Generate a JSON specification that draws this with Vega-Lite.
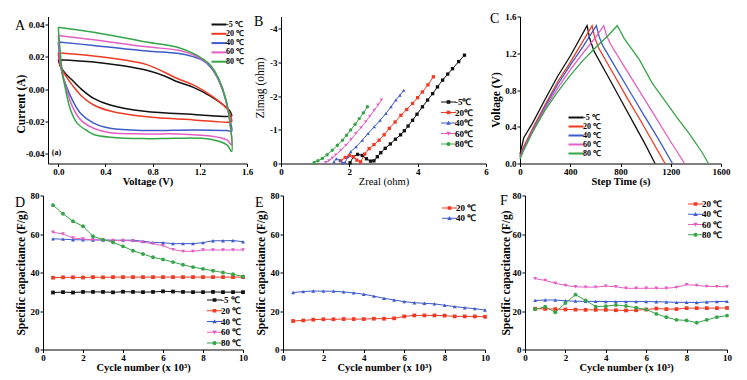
{
"$schema": "https://vega.github.io/schema/vega-lite/v6.json",
"padding": {"left": 15, "top": 11.5, "right": 2, "bottom": 2},
"spacing": 4,
"config": {
  "view": {"stroke": null},
  "font": "Liberation Serif",
  "axis": {"grid": false, "domainColor": "#000", "tickColor": "#000", "tickSize": 3, "labelPadding": 1, "labelFont": "Liberation Serif", "labelFontSize": 9, "labelFontWeight": "bold", "labelColor": "#000", "titleFont": "Liberation Serif", "titleFontWeight": "bold", "titleColor": "#000", "domainWidth": 1, "tickWidth": 1, "labelFlush": false, "labelOverlap": false},
  "axisX": {"titleFontSize": 10.5, "titlePadding": 0},
  "axisY": {"titleFontSize": 11.5},
  "legend": {"labelFont": "Liberation Serif", "labelFontWeight": "bold", "labelColor": "#000", "labelOffset": 2},
  "title": {"font": "Liberation Serif", "fontSize": 14, "fontWeight": "normal", "anchor": "start", "frame": "bounds", "baseline": "alphabetic", "color": "#000"}
},
"resolve": {"scale": {"color": "independent", "x": "independent", "y": "independent"}, "legend": {"color": "independent"}},
"vconcat": [
{
 "spacing": 4, "bounds": "flush",
 "resolve": {"scale": {"color": "independent", "x": "independent", "y": "independent"}, "legend": {"color": "independent"}},
 "hconcat": [
  {"width": 1, "height": 147, "data": {"values": []}, "mark": "point"},
  {
   "spacing": 34, "bounds": "flush",
   "resolve": {"scale": {"color": "independent", "x": "independent", "y": "independent"}, "legend": {"color": "independent"}},
   "hconcat": [
    {
     "width": 199, "height": 147,
     "title": {"text": "A", "offset": -16},
     "encoding": {
      "x": {"field": "x", "type": "quantitative", "scale": {"domain": [-0.087, 1.6], "nice": false, "zero": false}, "axis": {"title": "Voltage (V)", "values": [0, 0.4, 0.8, 1.2, 1.6], "format": ".1f", "labelOverlap": false}},
      "y": {"field": "y", "type": "quantitative", "scale": {"domain": [-0.046, 0.045], "nice": false, "zero": false}, "axis": {"title": "Current (A)", "values": [-0.04, -0.02, 0, 0.02, 0.04], "format": ".2f", "labelExpr": "replace(datum.label, '−', '-')", "labelOverlap": false, "minExtent": 21, "maxExtent": 21, "titlePadding": 1, "titleY": 87}}
     },
     "layer": [
      {
       "data": {"values": [
{"s":"-5 ℃","o":1,"x":0,"y":0.0183},{"s":"-5 ℃","o":2,"x":0.3,"y":0.0169},{"s":"-5 ℃","o":3,"x":0.55,"y":0.0145},{"s":"-5 ℃","o":4,"x":0.75,"y":0.0117},{"s":"-5 ℃","o":5,"x":0.9,"y":0.0082},{"s":"-5 ℃","o":6,"x":1.01,"y":0.0046},{"s":"-5 ℃","o":7,"x":1.15,"y":0.001},{"s":"-5 ℃","o":8,"x":1.29,"y":-0.0043},{"s":"-5 ℃","o":9,"x":1.4,"y":-0.0098},{"s":"-5 ℃","o":10,"x":1.45,"y":-0.013},{"s":"-5 ℃","o":11,"x":1.47,"y":-0.016},{"s":"-5 ℃","o":12,"x":1.47,"y":-0.0166},{"s":"-5 ℃","o":13,"x":1.15,"y":-0.0156},{"s":"-5 ℃","o":14,"x":0.73,"y":-0.0137},{"s":"-5 ℃","o":15,"x":0.44,"y":-0.0098},{"s":"-5 ℃","o":16,"x":0.3,"y":-0.0057},{"s":"-5 ℃","o":17,"x":0.19,"y":0.0004},{"s":"-5 ℃","o":18,"x":0.12,"y":0.0055},{"s":"-5 ℃","o":19,"x":0.06,"y":0.0097},{"s":"-5 ℃","o":20,"x":0.02,"y":0.0138},{"s":"-5 ℃","o":21,"x":0,"y":0.0183},
{"s":"20 ℃","o":1,"x":0,"y":0.0226},{"s":"20 ℃","o":2,"x":0.3,"y":0.0206},{"s":"20 ℃","o":3,"x":0.55,"y":0.0182},{"s":"20 ℃","o":4,"x":0.75,"y":0.0152},{"s":"20 ℃","o":5,"x":0.9,"y":0.0105},{"s":"20 ℃","o":6,"x":1.01,"y":0.0066},{"s":"20 ℃","o":7,"x":1.15,"y":0.0025},{"s":"20 ℃","o":8,"x":1.29,"y":-0.0037},{"s":"20 ℃","o":9,"x":1.4,"y":-0.0098},{"s":"20 ℃","o":10,"x":1.45,"y":-0.0139},{"s":"20 ℃","o":11,"x":1.47,"y":-0.019},{"s":"20 ℃","o":12,"x":1.47,"y":-0.0201},{"s":"20 ℃","o":13,"x":1.15,"y":-0.019},{"s":"20 ℃","o":14,"x":0.73,"y":-0.0169},{"s":"20 ℃","o":15,"x":0.44,"y":-0.0135},{"s":"20 ℃","o":16,"x":0.3,"y":-0.0098},{"s":"20 ℃","o":17,"x":0.19,"y":-0.0037},{"s":"20 ℃","o":18,"x":0.12,"y":0.0025},{"s":"20 ℃","o":19,"x":0.06,"y":0.0086},{"s":"20 ℃","o":20,"x":0.02,"y":0.0138},{"s":"20 ℃","o":21,"x":0,"y":0.0226},
{"s":"40 ℃","o":1,"x":0,"y":0.0292},{"s":"40 ℃","o":2,"x":0.3,"y":0.0271},{"s":"40 ℃","o":3,"x":0.75,"y":0.0236},{"s":"40 ℃","o":4,"x":1.01,"y":0.0222},{"s":"40 ℃","o":5,"x":1.15,"y":0.020},{"s":"40 ℃","o":6,"x":1.22,"y":0.018},{"s":"40 ℃","o":7,"x":1.29,"y":0.0138},{"s":"40 ℃","o":8,"x":1.36,"y":0.0055},{"s":"40 ℃","o":9,"x":1.42,"y":-0.0068},{"s":"40 ℃","o":10,"x":1.455,"y":-0.019},{"s":"40 ℃","o":11,"x":1.47,"y":-0.026},{"s":"40 ℃","o":12,"x":1.43,"y":-0.0256},{"s":"40 ℃","o":13,"x":1.15,"y":-0.0252},{"s":"40 ℃","o":14,"x":0.73,"y":-0.0256},{"s":"40 ℃","o":15,"x":0.44,"y":-0.0242},{"s":"40 ℃","o":16,"x":0.3,"y":-0.021},{"s":"40 ℃","o":17,"x":0.19,"y":-0.015},{"s":"40 ℃","o":18,"x":0.12,"y":-0.0068},{"s":"40 ℃","o":19,"x":0.06,"y":0.0035},{"s":"40 ℃","o":20,"x":0.03,"y":0.0107},{"s":"40 ℃","o":21,"x":0,"y":0.0292},
{"s":"60 ℃","o":1,"x":0,"y":0.0332},{"s":"60 ℃","o":2,"x":0.3,"y":0.0306},{"s":"60 ℃","o":3,"x":0.75,"y":0.0262},{"s":"60 ℃","o":4,"x":1.01,"y":0.0242},{"s":"60 ℃","o":5,"x":1.15,"y":0.0212},{"s":"60 ℃","o":6,"x":1.22,"y":0.0185},{"s":"60 ℃","o":7,"x":1.29,"y":0.0145},{"s":"60 ℃","o":8,"x":1.36,"y":0.0058},{"s":"60 ℃","o":9,"x":1.42,"y":-0.0065},{"s":"60 ℃","o":10,"x":1.455,"y":-0.021},{"s":"60 ℃","o":11,"x":1.47,"y":-0.0345},{"s":"60 ℃","o":12,"x":1.43,"y":-0.0314},{"s":"60 ℃","o":13,"x":1.29,"y":-0.029},{"s":"60 ℃","o":14,"x":1.01,"y":-0.0277},{"s":"60 ℃","o":15,"x":0.73,"y":-0.0277},{"s":"60 ℃","o":16,"x":0.44,"y":-0.0269},{"s":"60 ℃","o":17,"x":0.3,"y":-0.0242},{"s":"60 ℃","o":18,"x":0.19,"y":-0.019},{"s":"60 ℃","o":19,"x":0.12,"y":-0.0108},{"s":"60 ℃","o":20,"x":0.06,"y":0.0025},{"s":"60 ℃","o":21,"x":0.03,"y":0.0107},{"s":"60 ℃","o":22,"x":0,"y":0.0332},
{"s":"80 ℃","o":1,"x":0,"y":0.0384},{"s":"80 ℃","o":2,"x":0.3,"y":0.0353},{"s":"80 ℃","o":3,"x":0.75,"y":0.0292},{"s":"80 ℃","o":4,"x":1.01,"y":0.026},{"s":"80 ℃","o":5,"x":1.15,"y":0.022},{"s":"80 ℃","o":6,"x":1.22,"y":0.019},{"s":"80 ℃","o":7,"x":1.29,"y":0.0148},{"s":"80 ℃","o":8,"x":1.36,"y":0.0065},{"s":"80 ℃","o":9,"x":1.42,"y":-0.006},{"s":"80 ℃","o":10,"x":1.46,"y":-0.023},{"s":"80 ℃","o":11,"x":1.47,"y":-0.0385},{"s":"80 ℃","o":12,"x":1.43,"y":-0.0345},{"s":"80 ℃","o":13,"x":1.29,"y":-0.031},{"s":"80 ℃","o":14,"x":1.01,"y":-0.0303},{"s":"80 ℃","o":15,"x":0.73,"y":-0.0306},{"s":"80 ℃","o":16,"x":0.44,"y":-0.0297},{"s":"80 ℃","o":17,"x":0.3,"y":-0.028},{"s":"80 ℃","o":18,"x":0.25,"y":-0.026},{"s":"80 ℃","o":19,"x":0.16,"y":-0.021},{"s":"80 ℃","o":20,"x":0.105,"y":-0.013},{"s":"80 ℃","o":21,"x":0.063,"y":-0.0006},{"s":"80 ℃","o":22,"x":0.034,"y":0.0107},{"s":"80 ℃","o":23,"x":0,"y":0.0384}
       ]},
       "mark": {"type": "line", "strokeWidth": 1.5, "interpolate": "catmull-rom"},
       "encoding": {
        "color": {"field": "s", "type": "nominal", "scale": {"domain": ["-5 ℃", "20 ℃", "40 ℃", "60 ℃", "80 ℃"], "range": ["#111111", "#ef3b24", "#3d5bc9", "#e35fc4", "#35a548"]},
          "legend": {"title": null, "orient": "top-right", "offset": 3, "labelFontSize": 8, "rowPadding": 0.3, "symbolType": "M-2,0H2", "symbolSize": 56, "symbolStrokeWidth": 2}},
        "order": {"field": "o", "type": "quantitative"}
       }
      },
      {
       "data": {"values": [{"x": -0.015, "y": -0.0398, "t": "(a)"}]},
       "mark": {"type": "text", "fontSize": 8, "fontWeight": "bold", "font": "Liberation Serif", "color": "#000"},
       "encoding": {"text": {"field": "t"}}
      }
     ]
    },
    {
     "width": 205, "height": 147,
     "title": {"text": "B", "offset": -12},
     "data": {"values": [
{"s":"-5℃","x":2.02,"y":-0.02},{"s":"-5℃","x":2.12,"y":-0.2},{"s":"-5℃","x":2.24,"y":-0.27},{"s":"-5℃","x":2.38,"y":-0.24},{"s":"-5℃","x":2.5,"y":-0.14},{"s":"-5℃","x":2.62,"y":-0.07},{"s":"-5℃","x":2.72,"y":-0.08},{"s":"-5℃","x":2.82,"y":-0.2},{"s":"-5℃","x":2.92,"y":-0.32},{"s":"-5℃","x":3.05,"y":-0.45},{"s":"-5℃","x":3.2,"y":-0.58},{"s":"-5℃","x":3.35,"y":-0.72},{"s":"-5℃","x":3.5,"y":-0.85},{"s":"-5℃","x":3.61,"y":-0.97},{"s":"-5℃","x":3.72,"y":-1.11},{"s":"-5℃","x":3.85,"y":-1.28},{"s":"-5℃","x":3.98,"y":-1.46},{"s":"-5℃","x":4.14,"y":-1.68},{"s":"-5℃","x":4.29,"y":-1.88},{"s":"-5℃","x":4.44,"y":-2.07},{"s":"-5℃","x":4.58,"y":-2.27},{"s":"-5℃","x":4.73,"y":-2.47},{"s":"-5℃","x":4.88,"y":-2.65},{"s":"-5℃","x":5.02,"y":-2.81},{"s":"-5℃","x":5.2,"y":-3.02},{"s":"-5℃","x":5.37,"y":-3.21},
{"s":"20℃","x":1.75,"y":-0.08},{"s":"20℃","x":1.88,"y":-0.18},{"s":"20℃","x":2.0,"y":-0.24},{"s":"20℃","x":2.12,"y":-0.2},{"s":"20℃","x":2.22,"y":-0.1},{"s":"20℃","x":2.33,"y":-0.05},{"s":"20℃","x":2.45,"y":-0.28},{"s":"20℃","x":2.58,"y":-0.44},{"s":"20℃","x":2.72,"y":-0.56},{"s":"20℃","x":2.87,"y":-0.69},{"s":"20℃","x":3.02,"y":-0.85},{"s":"20℃","x":3.17,"y":-1.04},{"s":"20℃","x":3.34,"y":-1.23},{"s":"20℃","x":3.51,"y":-1.43},{"s":"20℃","x":3.68,"y":-1.6},{"s":"20℃","x":3.85,"y":-1.78},{"s":"20℃","x":4.0,"y":-1.95},{"s":"20℃","x":4.14,"y":-2.12},{"s":"20℃","x":4.3,"y":-2.33},{"s":"20℃","x":4.46,"y":-2.57},
{"s":"40℃","x":1.55,"y":-0.05},{"s":"40℃","x":1.62,"y":-0.14},{"s":"40℃","x":1.72,"y":-0.1},{"s":"40℃","x":1.8,"y":-0.02},{"s":"40℃","x":1.88,"y":-0.04},{"s":"40℃","x":1.96,"y":-0.2},{"s":"40℃","x":2.04,"y":-0.35},{"s":"40℃","x":2.2,"y":-0.5},{"s":"40℃","x":2.38,"y":-0.69},{"s":"40℃","x":2.55,"y":-0.89},{"s":"40℃","x":2.73,"y":-1.09},{"s":"40℃","x":2.9,"y":-1.28},{"s":"40℃","x":3.07,"y":-1.48},{"s":"40℃","x":3.22,"y":-1.68},{"s":"40℃","x":3.36,"y":-1.88},{"s":"40℃","x":3.48,"y":-2.02},{"s":"40℃","x":3.59,"y":-2.17},
{"s":"60℃","x":1.31,"y":-0.03},{"s":"60℃","x":1.4,"y":-0.08},{"s":"60℃","x":1.5,"y":-0.16},{"s":"60℃","x":1.6,"y":-0.25},{"s":"60℃","x":1.75,"y":-0.39},{"s":"60℃","x":1.9,"y":-0.54},{"s":"60℃","x":2.05,"y":-0.71},{"s":"60℃","x":2.19,"y":-0.89},{"s":"60℃","x":2.34,"y":-1.06},{"s":"60℃","x":2.48,"y":-1.24},{"s":"60℃","x":2.6,"y":-1.4},{"s":"60℃","x":2.73,"y":-1.58},{"s":"60℃","x":2.84,"y":-1.73},{"s":"60℃","x":2.94,"y":-1.88},
{"s":"80℃","x":0.97,"y":-0.03},{"s":"80℃","x":1.08,"y":-0.08},{"s":"80℃","x":1.21,"y":-0.15},{"s":"80℃","x":1.35,"y":-0.26},{"s":"80℃","x":1.5,"y":-0.39},{"s":"80℃","x":1.65,"y":-0.54},{"s":"80℃","x":1.8,"y":-0.69},{"s":"80℃","x":1.92,"y":-0.84},{"s":"80℃","x":2.04,"y":-0.99},{"s":"80℃","x":2.17,"y":-1.16},{"s":"80℃","x":2.29,"y":-1.33},{"s":"80℃","x":2.41,"y":-1.5},{"s":"80℃","x":2.53,"y":-1.68}
     ]},
     "encoding": {
      "x": {"field": "x", "type": "quantitative", "scale": {"domain": [0, 6], "nice": false}, "axis": {"title": "Zreal (ohm)", "titleFontWeight": "normal", "values": [0, 2, 4, 6], "labelOverlap": false}},
      "y": {"field": "y", "type": "quantitative", "scale": {"domain": [-4.356, 0], "nice": false, "reverse": true}, "axis": {"title": "Zimag (ohm)", "titleFontWeight": "normal", "values": [-4, -3, -2, -1, 0], "labelExpr": "replace(datum.label, '−', '-')", "labelOverlap": false, "minExtent": 12, "maxExtent": 12, "titlePadding": 4, "titleY": 71}},
      "color": {"field": "s", "type": "nominal", "scale": {"domain": ["-5℃", "20℃", "40℃", "60℃", "80℃"], "range": ["#111111", "#ef3b24", "#3d5bc9", "#e35fc4", "#35a548"]},
        "legend": {"title": null, "orient": "none", "legendX": 163, "legendY": 81, "labelFontSize": 9, "rowPadding": 0.5, "symbolSize": 56, "symbolStrokeWidth": 0,
          "encode": {"symbols": {"update": {
            "shape": {"signal": "indexof(datum.value,'40')===0 ? 'M-2,-0.14H2V0.14H-2ZM-0.6,0.5L0,-0.6L0.6,0.5Z' : indexof(datum.value,'60')===0 ? 'M-2,-0.14H2V0.14H-2ZM0.6,-0.5L0,0.6L-0.6,-0.5Z' : indexof(datum.value,'80')===0 ? 'M-2,-0.14H2V0.14H-2ZM-0.55,0A0.55,0.55,0,1,1,0.55,0A0.55,0.55,0,1,1,-0.55,0Z' : 'M-2,-0.14H2V0.14H-2ZM-0.5,-0.5H0.5V0.5H-0.5Z'"},
            "fill": {"signal": "indexof(datum.value,'-5')===0 ? '#111111' : indexof(datum.value,'20')===0 ? '#ef3b24' : indexof(datum.value,'40')===0 ? '#3d5bc9' : indexof(datum.value,'60')===0 ? '#e35fc4' : '#35a548'"},
            "opacity": {"value": 1}}}}}}
     },
     "layer": [
      {"mark": {"type": "line", "strokeWidth": 1}},
      {"transform": [{"filter": {"field": "s", "oneOf": ["-5℃", "20℃"]}}], "mark": {"type": "point", "shape": "square", "filled": true, "size": 11, "opacity": 1}},
      {"transform": [{"filter": {"field": "s", "equal": "40℃"}}], "mark": {"type": "point", "shape": "triangle-up", "filled": true, "size": 12, "opacity": 1}},
      {"transform": [{"filter": {"field": "s", "equal": "60℃"}}], "mark": {"type": "point", "shape": "triangle-down", "filled": true, "size": 12, "opacity": 1}},
      {"transform": [{"filter": {"field": "s", "equal": "80℃"}}], "mark": {"type": "point", "shape": "circle", "filled": true, "size": 12, "opacity": 1}}
     ]
    },
    {
     "width": 201, "height": 147,
     "title": {"text": "C", "offset": -13},
     "data": {"values": [
{"s":"-5 ℃","x":0,"y":0.1},{"s":"-5 ℃","x":30,"y":0.28},{"s":"-5 ℃","x":100,"y":0.44},{"s":"-5 ℃","x":200,"y":0.7},{"s":"-5 ℃","x":300,"y":0.95},{"s":"-5 ℃","x":400,"y":1.17},{"s":"-5 ℃","x":534,"y":1.5},{"s":"-5 ℃","x":555,"y":1.36},{"s":"-5 ℃","x":590,"y":1.22},{"s":"-5 ℃","x":700,"y":0.95},{"s":"-5 ℃","x":800,"y":0.7},{"s":"-5 ℃","x":900,"y":0.45},{"s":"-5 ℃","x":1000,"y":0.2},{"s":"-5 ℃","x":1075,"y":0},
{"s":"20 ℃","x":0,"y":0.08},{"s":"20 ℃","x":25,"y":0.17},{"s":"20 ℃","x":100,"y":0.38},{"s":"20 ℃","x":200,"y":0.64},{"s":"20 ℃","x":300,"y":0.89},{"s":"20 ℃","x":400,"y":1.1},{"s":"20 ℃","x":500,"y":1.33},{"s":"20 ℃","x":574,"y":1.5},{"s":"20 ℃","x":595,"y":1.37},{"s":"20 ℃","x":625,"y":1.26},{"s":"20 ℃","x":750,"y":0.96},{"s":"20 ℃","x":850,"y":0.72},{"s":"20 ℃","x":950,"y":0.49},{"s":"20 ℃","x":1050,"y":0.25},{"s":"20 ℃","x":1155,"y":0},
{"s":"40 ℃","x":0,"y":0.07},{"s":"40 ℃","x":25,"y":0.15},{"s":"40 ℃","x":100,"y":0.36},{"s":"40 ℃","x":200,"y":0.62},{"s":"40 ℃","x":300,"y":0.86},{"s":"40 ℃","x":400,"y":1.07},{"s":"40 ℃","x":500,"y":1.27},{"s":"40 ℃","x":608,"y":1.5},{"s":"40 ℃","x":630,"y":1.38},{"s":"40 ℃","x":660,"y":1.28},{"s":"40 ℃","x":780,"y":1.0},{"s":"40 ℃","x":880,"y":0.77},{"s":"40 ℃","x":980,"y":0.54},{"s":"40 ℃","x":1100,"y":0.27},{"s":"40 ℃","x":1214,"y":0},
{"s":"60 ℃","x":0,"y":0.06},{"s":"60 ℃","x":25,"y":0.14},{"s":"60 ℃","x":100,"y":0.35},{"s":"60 ℃","x":200,"y":0.6},{"s":"60 ℃","x":300,"y":0.82},{"s":"60 ℃","x":400,"y":1.02},{"s":"60 ℃","x":500,"y":1.2},{"s":"60 ℃","x":600,"y":1.37},{"s":"60 ℃","x":667,"y":1.5},{"s":"60 ℃","x":690,"y":1.39},{"s":"60 ℃","x":720,"y":1.3},{"s":"60 ℃","x":850,"y":1.01},{"s":"60 ℃","x":950,"y":0.79},{"s":"60 ℃","x":1050,"y":0.57},{"s":"60 ℃","x":1180,"y":0.28},{"s":"60 ℃","x":1310,"y":0},
{"s":"80 ℃","x":0,"y":0.05},{"s":"80 ℃","x":25,"y":0.13},{"s":"80 ℃","x":100,"y":0.34},{"s":"80 ℃","x":200,"y":0.58},{"s":"80 ℃","x":300,"y":0.78},{"s":"80 ℃","x":400,"y":0.96},{"s":"80 ℃","x":500,"y":1.12},{"s":"80 ℃","x":600,"y":1.26},{"s":"80 ℃","x":700,"y":1.39},{"s":"80 ℃","x":774,"y":1.5},{"s":"80 ℃","x":795,"y":1.45},{"s":"80 ℃","x":830,"y":1.36},{"s":"80 ℃","x":950,"y":1.13},{"s":"80 ℃","x":1050,"y":0.88},{"s":"80 ℃","x":1150,"y":0.69},{"s":"80 ℃","x":1250,"y":0.5},{"s":"80 ℃","x":1350,"y":0.32},{"s":"80 ℃","x":1450,"y":0.12},{"s":"80 ℃","x":1500,"y":0}
     ]},
     "mark": {"type": "line", "strokeWidth": 1.3},
     "encoding": {
      "x": {"field": "x", "type": "quantitative", "scale": {"domain": [0, 1600], "nice": false}, "axis": {"title": "Step Time (s)", "values": [0, 400, 800, 1200, 1600], "format": "d", "labelOverlap": false}},
      "y": {"field": "y", "type": "quantitative", "scale": {"domain": [0, 1.6], "nice": false}, "axis": {"title": "Voltage (V)", "values": [0, 0.4, 0.8, 1.2, 1.6], "format": ".1f", "labelOverlap": false, "minExtent": 16, "maxExtent": 16, "titlePadding": 3, "titleY": 83}},
      "color": {"field": "s", "type": "nominal", "scale": {"domain": ["-5 ℃", "20 ℃", "40 ℃", "60 ℃", "80 ℃"], "range": ["#111111", "#ef3b24", "#3d5bc9", "#e35fc4", "#35a548"]},
        "legend": {"title": null, "orient": "none", "legendX": 51, "legendY": 96, "labelFontSize": 8, "rowPadding": -0.5, "symbolType": "M-2,0H2", "symbolSize": 56, "symbolStrokeWidth": 2}}
     }
    }
   ]
  }
 ]
},
{
 "spacing": 40, "bounds": "flush",
 "resolve": {"scale": {"color": "independent", "x": "independent", "y": "independent"}, "legend": {"color": "independent"}},
 "hconcat": [
  {
   "width": 200, "height": 154,
   "title": {"text": "D", "offset": -18},
   "data": {"values": [
{"s":"-5 ℃","x":0.5,"y":29.6},{"s":"-5 ℃","x":1,"y":29.8},{"s":"-5 ℃","x":1.5,"y":29.6},{"s":"-5 ℃","x":2,"y":29.9},{"s":"-5 ℃","x":2.5,"y":29.9},{"s":"-5 ℃","x":3,"y":29.9},{"s":"-5 ℃","x":3.5,"y":29.7},{"s":"-5 ℃","x":4,"y":30.0},{"s":"-5 ℃","x":4.5,"y":29.9},{"s":"-5 ℃","x":5,"y":29.8},{"s":"-5 ℃","x":5.5,"y":29.9},{"s":"-5 ℃","x":6,"y":30.2},{"s":"-5 ℃","x":6.5,"y":30.1},{"s":"-5 ℃","x":7,"y":29.9},{"s":"-5 ℃","x":7.5,"y":29.8},{"s":"-5 ℃","x":8,"y":29.8},{"s":"-5 ℃","x":8.5,"y":29.9},{"s":"-5 ℃","x":9,"y":29.8},{"s":"-5 ℃","x":9.5,"y":29.8},{"s":"-5 ℃","x":10,"y":29.8},
{"s":"20 ℃","x":0.5,"y":37.3},{"s":"20 ℃","x":1,"y":37.5},{"s":"20 ℃","x":1.5,"y":37.5},{"s":"20 ℃","x":2,"y":37.4},{"s":"20 ℃","x":2.5,"y":37.6},{"s":"20 ℃","x":3,"y":37.5},{"s":"20 ℃","x":3.5,"y":37.6},{"s":"20 ℃","x":4,"y":37.6},{"s":"20 ℃","x":4.5,"y":37.6},{"s":"20 ℃","x":5,"y":37.6},{"s":"20 ℃","x":5.5,"y":37.6},{"s":"20 ℃","x":6,"y":37.6},{"s":"20 ℃","x":6.5,"y":37.6},{"s":"20 ℃","x":7,"y":37.6},{"s":"20 ℃","x":7.5,"y":37.6},{"s":"20 ℃","x":8,"y":37.6},{"s":"20 ℃","x":8.5,"y":37.6},{"s":"20 ℃","x":9,"y":37.6},{"s":"20 ℃","x":9.5,"y":37.6},{"s":"20 ℃","x":10,"y":37.6},
{"s":"40 ℃","x":0.5,"y":57.5},{"s":"40 ℃","x":1,"y":57.3},{"s":"40 ℃","x":1.5,"y":57.0},{"s":"40 ℃","x":2,"y":57.0},{"s":"40 ℃","x":2.5,"y":56.9},{"s":"40 ℃","x":3,"y":56.9},{"s":"40 ℃","x":3.5,"y":56.8},{"s":"40 ℃","x":4,"y":56.8},{"s":"40 ℃","x":4.5,"y":56.8},{"s":"40 ℃","x":5,"y":56.2},{"s":"40 ℃","x":5.5,"y":55.6},{"s":"40 ℃","x":6,"y":55.5},{"s":"40 ℃","x":6.5,"y":55.0},{"s":"40 ℃","x":7,"y":55.0},{"s":"40 ℃","x":7.5,"y":55.0},{"s":"40 ℃","x":8,"y":55.5},{"s":"40 ℃","x":8.5,"y":56.5},{"s":"40 ℃","x":9,"y":56.5},{"s":"40 ℃","x":9.5,"y":56.6},{"s":"40 ℃","x":10,"y":56.0},
{"s":"60 ℃","x":0.5,"y":60.9},{"s":"60 ℃","x":1,"y":60.0},{"s":"60 ℃","x":1.5,"y":57.9},{"s":"60 ℃","x":2,"y":57.4},{"s":"60 ℃","x":2.5,"y":57.0},{"s":"60 ℃","x":3,"y":56.8},{"s":"60 ℃","x":3.5,"y":56.6},{"s":"60 ℃","x":4,"y":56.6},{"s":"60 ℃","x":4.5,"y":56.4},{"s":"60 ℃","x":5,"y":55.7},{"s":"60 ℃","x":5.5,"y":55.0},{"s":"60 ℃","x":6,"y":53.9},{"s":"60 ℃","x":6.5,"y":51.9},{"s":"60 ℃","x":7,"y":51.0},{"s":"60 ℃","x":7.5,"y":51.0},{"s":"60 ℃","x":8,"y":51.7},{"s":"60 ℃","x":8.5,"y":51.7},{"s":"60 ℃","x":9,"y":51.7},{"s":"60 ℃","x":9.5,"y":51.7},{"s":"60 ℃","x":10,"y":51.7},
{"s":"80 ℃","x":0.5,"y":75.0},{"s":"80 ℃","x":1,"y":70.5},{"s":"80 ℃","x":1.5,"y":66.6},{"s":"80 ℃","x":2,"y":64.0},{"s":"80 ℃","x":2.5,"y":58.8},{"s":"80 ℃","x":3,"y":57.1},{"s":"80 ℃","x":3.5,"y":55.7},{"s":"80 ℃","x":4,"y":53.6},{"s":"80 ℃","x":4.5,"y":51.3},{"s":"80 ℃","x":5,"y":49.6},{"s":"80 ℃","x":5.5,"y":47.9},{"s":"80 ℃","x":6,"y":46.8},{"s":"80 ℃","x":6.5,"y":45.4},{"s":"80 ℃","x":7,"y":44.0},{"s":"80 ℃","x":7.5,"y":42.8},{"s":"80 ℃","x":8,"y":41.9},{"s":"80 ℃","x":8.5,"y":40.9},{"s":"80 ℃","x":9,"y":40.0},{"s":"80 ℃","x":9.5,"y":39.1},{"s":"80 ℃","x":10,"y":37.9}
   ]},
   "encoding": {
    "x": {"field": "x", "type": "quantitative", "scale": {"domain": [0, 10], "nice": false}, "axis": {"title": "Cycle number (x 10³)", "values": [0, 2, 4, 6, 8, 10], "labelOverlap": false}},
    "y": {"field": "y", "type": "quantitative", "scale": {"domain": [0, 80], "nice": false}, "axis": {"title": "Specific capacitance (F/g)", "values": [0, 20, 40, 60, 80], "labelOverlap": false, "minExtent": 13, "maxExtent": 13, "titlePadding": 4}},
    "color": {"field": "s", "type": "nominal", "scale": {"domain": ["-5 ℃", "20 ℃", "40 ℃", "60 ℃", "80 ℃"], "range": ["#111111", "#ef3b24", "#3d5bc9", "#e35fc4", "#35a548"]},
      "legend": {"title": null, "orient": "bottom-right", "offset": 1, "labelFontSize": 9, "rowPadding": 0.75, "symbolSize": 56, "symbolStrokeWidth": 0,
        "encode": {"symbols": {"update": {
          "shape": {"signal": "indexof(datum.value,'40')===0 ? 'M-2,-0.14H2V0.14H-2ZM-0.6,0.5L0,-0.6L0.6,0.5Z' : indexof(datum.value,'60')===0 ? 'M-2,-0.14H2V0.14H-2ZM0.6,-0.5L0,0.6L-0.6,-0.5Z' : indexof(datum.value,'80')===0 ? 'M-2,-0.14H2V0.14H-2ZM-0.55,0A0.55,0.55,0,1,1,0.55,0A0.55,0.55,0,1,1,-0.55,0Z' : 'M-2,-0.14H2V0.14H-2ZM-0.5,-0.5H0.5V0.5H-0.5Z'"},
          "fill": {"signal": "indexof(datum.value,'-5')===0 ? '#111111' : indexof(datum.value,'20')===0 ? '#ef3b24' : indexof(datum.value,'40')===0 ? '#3d5bc9' : indexof(datum.value,'60')===0 ? '#e35fc4' : '#35a548'"},
          "opacity": {"value": 1}}}}}}
   },
   "layer": [
    {"mark": {"type": "line", "strokeWidth": 1}},
    {"transform": [{"filter": {"field": "s", "oneOf": ["-5 ℃", "20 ℃"]}}], "mark": {"type": "point", "shape": "square", "filled": true, "size": 14, "opacity": 1}},
    {"transform": [{"filter": {"field": "s", "equal": "40 ℃"}}], "mark": {"type": "point", "shape": "triangle-up", "filled": true, "size": 15, "opacity": 1}},
    {"transform": [{"filter": {"field": "s", "equal": "60 ℃"}}], "mark": {"type": "point", "shape": "triangle-down", "filled": true, "size": 15, "opacity": 1}},
    {"transform": [{"filter": {"field": "s", "equal": "80 ℃"}}], "mark": {"type": "point", "shape": "circle", "filled": true, "size": 15, "opacity": 1}}
   ]
  },
  {
   "width": 202, "height": 154,
   "title": {"text": "E", "offset": -18},
   "data": {"values": [
{"s":"20 ℃","x":0.5,"y":14.8},{"s":"20 ℃","x":1,"y":15.1},{"s":"20 ℃","x":1.5,"y":15.5},{"s":"20 ℃","x":2,"y":15.7},{"s":"20 ℃","x":2.5,"y":15.7},{"s":"20 ℃","x":3,"y":15.8},{"s":"20 ℃","x":3.5,"y":15.8},{"s":"20 ℃","x":4,"y":15.8},{"s":"20 ℃","x":4.5,"y":16.0},{"s":"20 ℃","x":5,"y":16.0},{"s":"20 ℃","x":5.5,"y":16.2},{"s":"20 ℃","x":6,"y":17.2},{"s":"20 ℃","x":6.5,"y":17.7},{"s":"20 ℃","x":7,"y":17.7},{"s":"20 ℃","x":7.5,"y":17.7},{"s":"20 ℃","x":8,"y":17.6},{"s":"20 ℃","x":8.5,"y":17.2},{"s":"20 ℃","x":9,"y":17.2},{"s":"20 ℃","x":9.5,"y":17.2},{"s":"20 ℃","x":10,"y":17.0},
{"s":"40 ℃","x":0.5,"y":29.6},{"s":"40 ℃","x":1,"y":30.1},{"s":"40 ℃","x":1.5,"y":30.4},{"s":"40 ℃","x":2,"y":30.3},{"s":"40 ℃","x":2.5,"y":30.3},{"s":"40 ℃","x":3,"y":29.9},{"s":"40 ℃","x":3.5,"y":29.4},{"s":"40 ℃","x":4,"y":28.7},{"s":"40 ℃","x":4.5,"y":27.7},{"s":"40 ℃","x":5,"y":26.6},{"s":"40 ℃","x":5.5,"y":25.7},{"s":"40 ℃","x":6,"y":24.9},{"s":"40 ℃","x":6.5,"y":24.3},{"s":"40 ℃","x":7,"y":24.0},{"s":"40 ℃","x":7.5,"y":23.7},{"s":"40 ℃","x":8,"y":23.0},{"s":"40 ℃","x":8.5,"y":22.3},{"s":"40 ℃","x":9,"y":21.7},{"s":"40 ℃","x":9.5,"y":21.2},{"s":"40 ℃","x":10,"y":20.5}
   ]},
   "encoding": {
    "x": {"field": "x", "type": "quantitative", "scale": {"domain": [0, 10], "nice": false}, "axis": {"title": "Cycle number (x 10³)", "values": [0, 2, 4, 6, 8, 10], "labelOverlap": false}},
    "y": {"field": "y", "type": "quantitative", "scale": {"domain": [0, 80], "nice": false}, "axis": {"title": "Specific capacitance (F/g)", "values": [0, 20, 40, 60, 80], "labelOverlap": false, "minExtent": 13, "maxExtent": 13, "titlePadding": 4}},
    "color": {"field": "s", "type": "nominal", "scale": {"domain": ["20 ℃", "40 ℃"], "range": ["#ef3b24", "#3d5bc9"]},
      "legend": {"title": null, "orient": "top-right", "offset": 8, "labelFontSize": 9, "rowPadding": 0.25, "symbolSize": 56, "symbolStrokeWidth": 0,
        "encode": {"symbols": {"update": {
          "shape": {"signal": "indexof(datum.value,'40')===0 ? 'M-2,-0.14H2V0.14H-2ZM-0.6,0.5L0,-0.6L0.6,0.5Z' : 'M-2,-0.14H2V0.14H-2ZM-0.5,-0.5H0.5V0.5H-0.5Z'"},
          "fill": {"signal": "indexof(datum.value,'20')===0 ? '#ef3b24' : '#3d5bc9'"},
          "opacity": {"value": 1}}}}}}
   },
   "layer": [
    {"mark": {"type": "line", "strokeWidth": 1}},
    {"transform": [{"filter": {"field": "s", "equal": "20 ℃"}}], "mark": {"type": "point", "shape": "square", "filled": true, "size": 14, "opacity": 1}},
    {"transform": [{"filter": {"field": "s", "equal": "40 ℃"}}], "mark": {"type": "point", "shape": "triangle-up", "filled": true, "size": 15, "opacity": 1}}
   ]
  },
  {
   "width": 202, "height": 154,
   "title": {"text": "F", "offset": -16},
   "data": {"values": [
{"s":"20 ℃","x":0.5,"y":21.2},{"s":"20 ℃","x":1,"y":21.1},{"s":"20 ℃","x":1.5,"y":21.0},{"s":"20 ℃","x":2,"y":20.8},{"s":"20 ℃","x":2.5,"y":20.7},{"s":"20 ℃","x":3,"y":20.6},{"s":"20 ℃","x":3.5,"y":20.6},{"s":"20 ℃","x":4,"y":20.6},{"s":"20 ℃","x":4.5,"y":20.4},{"s":"20 ℃","x":5,"y":20.3},{"s":"20 ℃","x":5.5,"y":20.4},{"s":"20 ℃","x":6,"y":20.8},{"s":"20 ℃","x":6.5,"y":21.3},{"s":"20 ℃","x":7,"y":21.0},{"s":"20 ℃","x":7.5,"y":21.0},{"s":"20 ℃","x":8,"y":21.5},{"s":"20 ℃","x":8.5,"y":21.5},{"s":"20 ℃","x":9,"y":21.5},{"s":"20 ℃","x":9.5,"y":21.5},{"s":"20 ℃","x":10,"y":21.6},
{"s":"40 ℃","x":0.5,"y":25.5},{"s":"40 ℃","x":1,"y":25.7},{"s":"40 ℃","x":1.5,"y":25.7},{"s":"40 ℃","x":2,"y":25.3},{"s":"40 ℃","x":2.5,"y":25.1},{"s":"40 ℃","x":3,"y":25.0},{"s":"40 ℃","x":3.5,"y":25.0},{"s":"40 ℃","x":4,"y":24.9},{"s":"40 ℃","x":4.5,"y":24.9},{"s":"40 ℃","x":5,"y":24.9},{"s":"40 ℃","x":5.5,"y":24.9},{"s":"40 ℃","x":6,"y":24.9},{"s":"40 ℃","x":6.5,"y":24.8},{"s":"40 ℃","x":7,"y":24.7},{"s":"40 ℃","x":7.5,"y":24.5},{"s":"40 ℃","x":8,"y":24.5},{"s":"40 ℃","x":8.5,"y":24.4},{"s":"40 ℃","x":9,"y":24.7},{"s":"40 ℃","x":9.5,"y":24.9},{"s":"40 ℃","x":10,"y":25.0},
{"s":"60 ℃","x":0.5,"y":36.8},{"s":"60 ℃","x":1,"y":35.9},{"s":"60 ℃","x":1.5,"y":34.4},{"s":"60 ℃","x":2,"y":33.3},{"s":"60 ℃","x":2.5,"y":32.6},{"s":"60 ℃","x":3,"y":32.4},{"s":"60 ℃","x":3.5,"y":32.4},{"s":"60 ℃","x":4,"y":32.9},{"s":"60 ℃","x":4.5,"y":32.6},{"s":"60 ℃","x":5,"y":31.8},{"s":"60 ℃","x":5.5,"y":31.8},{"s":"60 ℃","x":6,"y":31.8},{"s":"60 ℃","x":6.5,"y":31.8},{"s":"60 ℃","x":7,"y":31.8},{"s":"60 ℃","x":7.5,"y":32.3},{"s":"60 ℃","x":8,"y":33.7},{"s":"60 ℃","x":8.5,"y":33.3},{"s":"60 ℃","x":9,"y":32.8},{"s":"60 ℃","x":9.5,"y":32.7},{"s":"60 ℃","x":10,"y":32.6},
{"s":"80 ℃","x":0.5,"y":20.9},{"s":"80 ℃","x":1,"y":22.2},{"s":"80 ℃","x":1.5,"y":19.3},{"s":"80 ℃","x":2,"y":24.1},{"s":"80 ℃","x":2.5,"y":28.5},{"s":"80 ℃","x":3,"y":25.5},{"s":"80 ℃","x":3.5,"y":22.3},{"s":"80 ℃","x":4,"y":22.5},{"s":"80 ℃","x":4.5,"y":23.1},{"s":"80 ℃","x":5,"y":22.6},{"s":"80 ℃","x":5.5,"y":21.7},{"s":"80 ℃","x":6,"y":20.8},{"s":"80 ℃","x":6.5,"y":18.5},{"s":"80 ℃","x":7,"y":16.8},{"s":"80 ℃","x":7.5,"y":15.4},{"s":"80 ℃","x":8,"y":15.1},{"s":"80 ℃","x":8.5,"y":13.9},{"s":"80 ℃","x":9,"y":15.4},{"s":"80 ℃","x":9.5,"y":16.8},{"s":"80 ℃","x":10,"y":17.6}
   ]},
   "encoding": {
    "x": {"field": "x", "type": "quantitative", "scale": {"domain": [0, 10], "nice": false}, "axis": {"title": "Cycle number (x 10³)", "values": [0, 2, 4, 6, 8, 10], "labelOverlap": false}},
    "y": {"field": "y", "type": "quantitative", "scale": {"domain": [0, 80], "nice": false}, "axis": {"title": "Specific capacitance (F/g)", "values": [0, 20, 40, 60, 80], "labelOverlap": false, "minExtent": 13, "maxExtent": 13, "titlePadding": 1}},
    "color": {"field": "s", "type": "nominal", "scale": {"domain": ["20 ℃", "40 ℃", "60 ℃", "80 ℃"], "range": ["#ef3b24", "#3d5bc9", "#e35fc4", "#35a548"]},
      "legend": {"title": null, "orient": "top-right", "offset": 4, "labelFontSize": 9, "rowPadding": 0.25, "symbolSize": 56, "symbolStrokeWidth": 0,
        "encode": {"symbols": {"update": {
          "shape": {"signal": "indexof(datum.value,'40')===0 ? 'M-2,-0.14H2V0.14H-2ZM-0.6,0.5L0,-0.6L0.6,0.5Z' : indexof(datum.value,'60')===0 ? 'M-2,-0.14H2V0.14H-2ZM0.6,-0.5L0,0.6L-0.6,-0.5Z' : indexof(datum.value,'80')===0 ? 'M-2,-0.14H2V0.14H-2ZM-0.55,0A0.55,0.55,0,1,1,0.55,0A0.55,0.55,0,1,1,-0.55,0Z' : 'M-2,-0.14H2V0.14H-2ZM-0.5,-0.5H0.5V0.5H-0.5Z'"},
          "fill": {"signal": "indexof(datum.value,'20')===0 ? '#ef3b24' : indexof(datum.value,'40')===0 ? '#3d5bc9' : indexof(datum.value,'60')===0 ? '#e35fc4' : '#35a548'"},
          "opacity": {"value": 1}}}}}}
   },
   "layer": [
    {"mark": {"type": "line", "strokeWidth": 1}},
    {"transform": [{"filter": {"field": "s", "equal": "20 ℃"}}], "mark": {"type": "point", "shape": "square", "filled": true, "size": 14, "opacity": 1}},
    {"transform": [{"filter": {"field": "s", "equal": "40 ℃"}}], "mark": {"type": "point", "shape": "triangle-up", "filled": true, "size": 15, "opacity": 1}},
    {"transform": [{"filter": {"field": "s", "equal": "60 ℃"}}], "mark": {"type": "point", "shape": "triangle-down", "filled": true, "size": 15, "opacity": 1}},
    {"transform": [{"filter": {"field": "s", "equal": "80 ℃"}}], "mark": {"type": "point", "shape": "circle", "filled": true, "size": 15, "opacity": 1}}
   ]
  }
 ]
}
]
}
